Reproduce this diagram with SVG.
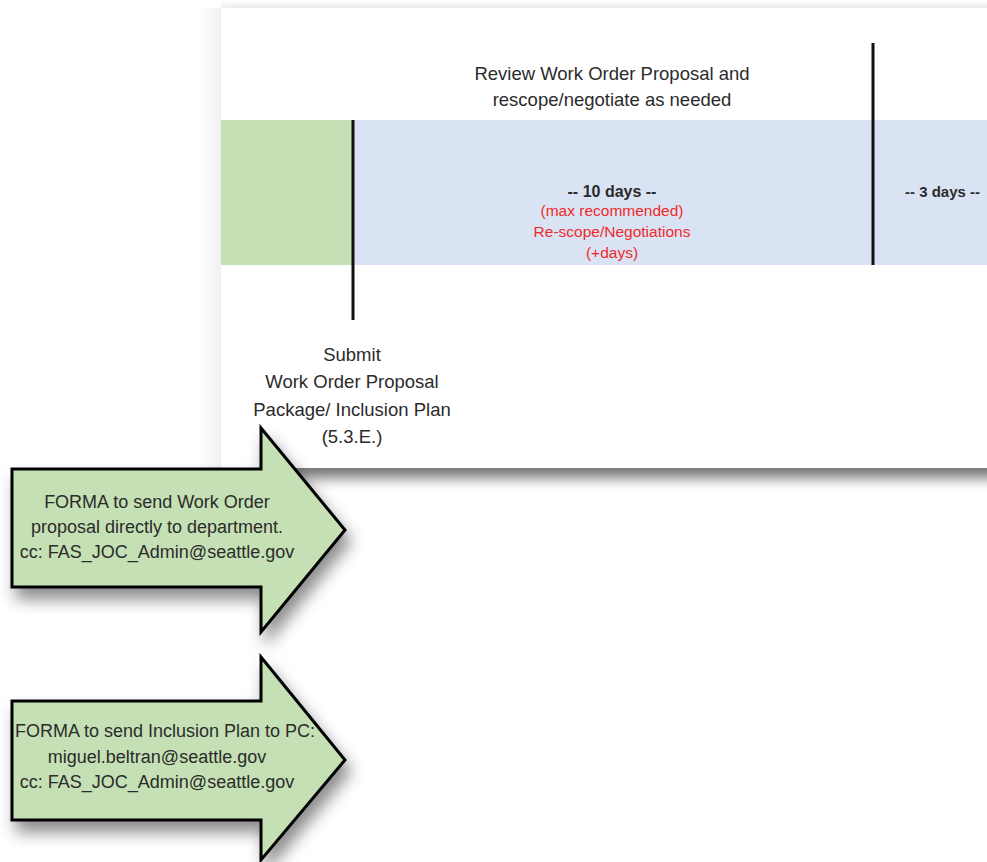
<svg xmlns="http://www.w3.org/2000/svg" width="987" height="862" viewBox="0 0 987 862">
  <defs>
    <filter id="cardShadow" x="-10%" y="-20%" width="130%" height="150%">
      <feGaussianBlur stdDeviation="7"/>
    </filter>
    <filter id="arrowShadow" x="-20%" y="-20%" width="150%" height="160%">
      <feDropShadow dx="5" dy="11" stdDeviation="8" flood-color="#000" flood-opacity="0.45"/>
    </filter>
    <linearGradient id="topFade" x1="0" y1="0" x2="0" y2="1">
      <stop offset="0" stop-color="#ffffff"/>
      <stop offset="1" stop-color="#eeeeee"/>
    </linearGradient>
    <linearGradient id="leftFade" x1="0" y1="0" x2="1" y2="0">
      <stop offset="0" stop-color="#ffffff"/>
      <stop offset="1" stop-color="#f0f0f0"/>
    </linearGradient>
    <style>
      .t { font-family: "Liberation Sans", Arial, sans-serif; fill: #2b2b2b; text-anchor: middle; }
      .big { font-size: 18.5px; }
      .arrowtxt { font-size: 18px; }
      .days { font-size: 16px; font-weight: bold; }
      .red { font-size: 15.5px; fill: #ee2a2a; }
      .marker { stroke: #111; stroke-width: 3; }
      .arrow { fill: #c5e0b4; stroke: #000; stroke-width: 3; stroke-linejoin: miter; }
    </style>
  </defs>

  <rect x="0" y="0" width="987" height="862" fill="#ffffff"/>

  <g id="card">
    <rect x="221" y="0" width="766" height="8" fill="url(#topFade)"/>
    <rect x="200" y="8" width="21" height="460" fill="url(#leftFade)"/>
    <rect x="236" y="18" width="780" height="460" fill="#000" opacity="0.55" filter="url(#cardShadow)"/>
    <rect x="221" y="8" width="780" height="460" fill="#ffffff"/>
  </g>

  <g id="band-green">
    <rect x="221" y="120" width="132" height="145" fill="#c5e0b4"/>
  </g>
  <g id="band-blue">
    <rect x="353" y="120" width="640" height="145" fill="#dae3f3"/>
  </g>

  <g id="review-label">
    <text class="t big" x="612" y="80">Review Work Order Proposal and</text>
    <text class="t big" x="612" y="106">rescope/negotiate as needed</text>
  </g>

  <g id="ten-days">
    <text class="t days" x="612" y="197">-- 10 days --</text>
    <text class="t red" x="612" y="216">(max recommended)</text>
    <text class="t red" x="612" y="237">Re-scope/Negotiations</text>
    <text class="t red" x="612" y="258">(+days)</text>
  </g>

  <g id="three-days">
    <text class="t days" x="905" y="197" style="text-anchor:start;font-size:15px">-- 3 days --</text>
  </g>

  <g id="connectors">
    <line class="marker" x1="353" y1="120" x2="353" y2="320"/>
    <line class="marker" x1="873" y1="43" x2="873" y2="265"/>
  </g>

  <g id="submit-label">
    <text class="t big" x="352" y="361">Submit</text>
    <text class="t big" x="352" y="388">Work Order Proposal</text>
    <text class="t big" x="352" y="416">Package/ Inclusion Plan</text>
    <text class="t big" x="352" y="443">(5.3.E.)</text>
  </g>

  <g id="arrow-work-order">
    <polygon class="arrow" filter="url(#arrowShadow)" points="12,469 261,469 261,428 345,530 261,632 261,587 12,587"/>
    <text class="t arrowtxt" x="157" y="508">FORMA to send Work Order</text>
    <text class="t arrowtxt" x="157" y="533">proposal directly to department.</text>
    <text class="t arrowtxt" x="157" y="558">cc: FAS_JOC_Admin@seattle.gov</text>
  </g>

  <g id="arrow-inclusion-plan">
    <polygon class="arrow" filter="url(#arrowShadow)" points="12,701 261,701 261,657 345,760 261,860 261,820 12,820"/>
    <text class="t arrowtxt" x="165" y="737">FORMA to send Inclusion Plan to PC:</text>
    <text class="t arrowtxt" x="157" y="763">miguel.beltran@seattle.gov</text>
    <text class="t arrowtxt" x="157" y="788">cc: FAS_JOC_Admin@seattle.gov</text>
  </g>
</svg>
